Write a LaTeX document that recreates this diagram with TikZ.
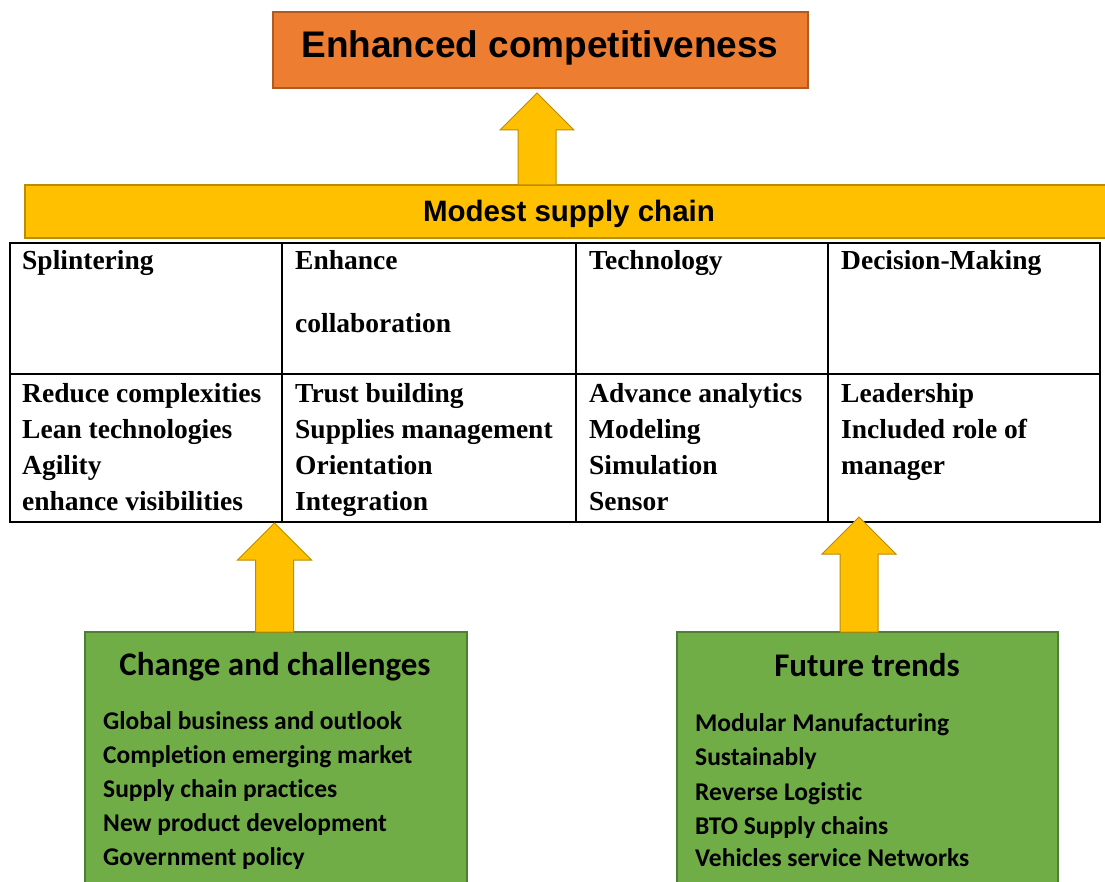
\documentclass[tikz,border=0pt]{standalone}
\usepackage{fontspec}
\newfontfamily\headfont{Liberation Sans}
\newfontfamily\cellfont{Liberation Serif}
\newfontfamily\listfont[Ligatures=NoCommon]{Carlito}
\usetikzlibrary{calc}

\definecolor{goalorange}{HTML}{ED7D31}
\definecolor{goalborder}{HTML}{AE5A21}
\definecolor{baryellow}{HTML}{FFC000}
\definecolor{barborder}{HTML}{BC8C00}
\definecolor{boxgreen}{HTML}{70AD47}
\definecolor{greenborder}{HTML}{507E32}

\tikzset{
  box/.style={draw, rectangle, anchor=north west, inner sep=0pt, outer sep=0pt},
  goalbox/.style={box, fill=goalorange, draw=goalborder, line width=1.2pt},
  barbox/.style={box, fill=baryellow, draw=barborder, line width=1.2pt},
  greenbox/.style={box, fill=boxgreen, draw=greenborder, line width=1.2pt},
  cellbox/.style={box, draw=black, line width=1.6pt},
  celltext/.style={anchor=base west, inner sep=0pt, font=\cellfont\bfseries\fontsize{27.5}{33}\selectfont},
  listtext/.style={anchor=base west, inner sep=0pt, font=\listfont\bfseries\fontsize{25.5}{30}\selectfont},
  greentitle/.style={anchor=base, inner sep=0pt, font=\listfont\bfseries\fontsize{33}{38}\selectfont},
  blockarrow/.style={fill=baryellow, draw=barborder, line width=1pt, line join=miter},
}

% upward block arrow from a bottom point to a tip point
\newcommand\blockup[2]{%
  \draw[blockarrow] ($(#1)+(-19,0)$) -- ($(#2)+(-19,37)$) -- ($(#2)+(-37,37)$)
    -- (#2) -- ($(#2)+(37,37)$) -- ($(#2)+(19,37)$) -- ($(#1)+(19,0)$) -- cycle;}

\begin{document}
\begin{tikzpicture}[x=1pt, y=-1pt]
\useasboundingbox (0,0) rectangle (1105,882);
\clip (0,0) rectangle (1105,882);
\fill[white] (0,0) rectangle (1105,882);

% goal
\node[goalbox, minimum width=535pt, minimum height=76pt] (goal) at (273,12) {};
\node[anchor=base, inner sep=0pt, font=\headfont\bfseries\fontsize{37}{44}\selectfont] (goaltext) at (540,58) {Enhanced competitiveness};

% supply chain bar
\node[barbox, minimum width=1100pt, minimum height=53pt] (modest) at (25,185) {};
\node[anchor=base, inner sep=0pt, font=\headfont\bfseries\fontsize{29.5}{35}\selectfont] (modesttext) at (569,222) {Modest supply chain};

% table cells
\node[cellbox, minimum width=272pt, minimum height=131pt] (h1) at (10,243) {};
\node[cellbox, minimum width=294pt, minimum height=131pt] (h2) at (282,243) {};
\node[cellbox, minimum width=252pt, minimum height=131pt] (h3) at (576,243) {};
\node[cellbox, minimum width=272pt, minimum height=131pt] (h4) at (828,243) {};
\node[cellbox, minimum width=272pt, minimum height=148pt] (b1) at (10,374) {};
\node[cellbox, minimum width=294pt, minimum height=148pt] (b2) at (282,374) {};
\node[cellbox, minimum width=252pt, minimum height=148pt] (b3) at (576,374) {};
\node[cellbox, minimum width=272pt, minimum height=148pt] (b4) at (828,374) {};

% header texts
\node[celltext] (t11) at (22,270) {Splintering};
\node[celltext] (t21) at (295,270) {Enhance};
\node[celltext] (t22) at (295,333) {collaboration};
\node[celltext] (t31) at (589,270) {Technology};
\node[celltext] (t41) at (841,270) {Decision-Making};

% body texts
\node[celltext] (c11) at (22,402) {Reduce complexities};
\node[celltext] (c12) at (22,438) {Lean technologies};
\node[celltext] (c13) at (22,474) {Agility};
\node[celltext] (c14) at (22,510) {enhance visibilities};
\node[celltext] (c21) at (295,402) {Trust building};
\node[celltext] (c22) at (295,438) {Supplies management};
\node[celltext] (c23) at (295,474) {Orientation};
\node[celltext] (c24) at (295,510) {Integration};
\node[celltext] (c31) at (589,402) {Advance analytics};
\node[celltext] (c32) at (589,438) {Modeling};
\node[celltext] (c33) at (589,474) {Simulation};
\node[celltext] (c34) at (589,510) {Sensor};
\node[celltext] (c41) at (841,402) {Leadership};
\node[celltext] (c42) at (841,438) {Included role of};
\node[celltext] (c43) at (841,474) {manager};

% green boxes
\node[greenbox, minimum width=382pt, minimum height=270pt] (change) at (85,632) {};
\node[greentitle] (changetitle) at (275,675) {Change and challenges};
\node[listtext] (g1) at (103,729) {Global business and outlook};
\node[listtext] (g2) at (103,763) {Completion emerging market};
\node[listtext] (g3) at (103,797) {Supply chain practices};
\node[listtext] (g4) at (103,831) {New product development};
\node[listtext] (g5) at (103,865) {Government policy};

\node[greenbox, minimum width=381pt, minimum height=270pt] (trends) at (677,632) {};
\node[greentitle] (trendstitle) at (867,676) {Future trends};
\node[listtext] (f1) at (695,731) {Modular Manufacturing};
\node[listtext] (f2) at (695,765) {Sustainably};
\node[listtext] (f3) at (695,800) {Reverse Logistic};
\node[listtext] (f4) at (695,834) {BTO Supply chains};
\node[listtext] (f5) at (695,866) {Vehicles service Networks};

% arrow end points
\coordinate (topfoot) at (537,185);
\coordinate (toptip) at (537,93);
\coordinate (leftfoot) at (274.5,632);
\coordinate (lefttip) at (274.5,523);
\coordinate (rightfoot) at (859,632);
\coordinate (righttip) at (859,517);

\blockup{topfoot}{toptip}
\blockup{leftfoot}{lefttip}
\blockup{rightfoot}{righttip}
\end{tikzpicture}
\end{document}
